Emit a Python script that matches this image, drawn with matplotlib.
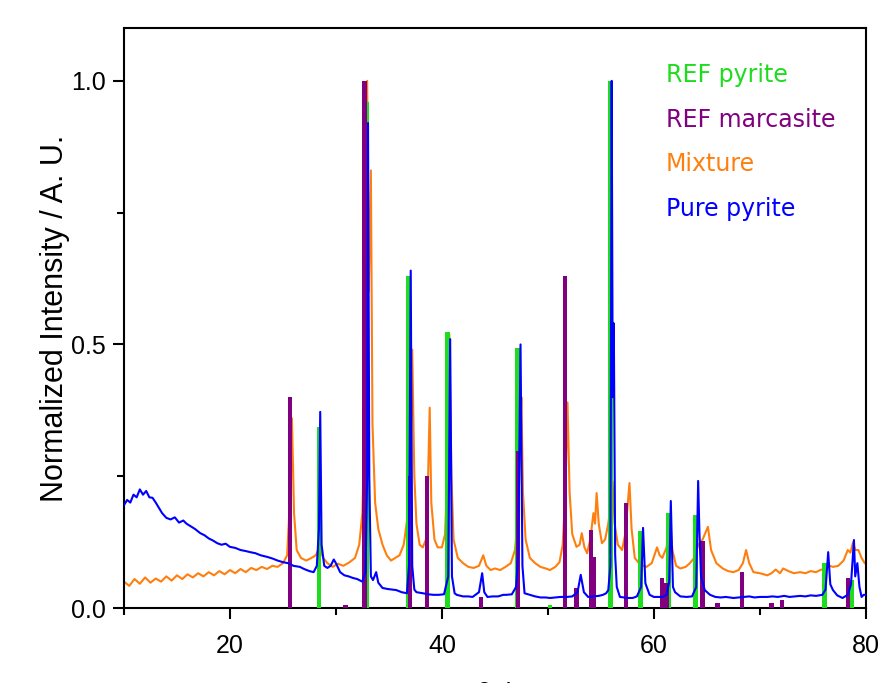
import matplotlib
matplotlib.use("Agg")
import matplotlib.pyplot as plt
from matplotlib.ticker import MultipleLocator

# reference stick patterns (2theta, normalized intensity)
pyrite_ref_x = [28.4, 32.9, 36.85, 40.55, 47.15, 50.2, 55.9, 58.75, 61.35, 63.95, 76.1, 78.65]
pyrite_ref_y = [0.343, 0.96, 0.63, 0.524, 0.493, 0.005, 1.0, 0.146, 0.18, 0.177, 0.085, 0.053]

marc_ref_x = [25.7, 30.9, 32.7, 37.0, 38.6, 43.7, 47.2, 51.6, 52.7, 54.05, 54.35, 57.4,
              60.8, 61.2, 64.6, 66.0, 68.3, 71.1, 72.1, 78.3]
marc_ref_y = [0.40, 0.005, 1.0, 0.25, 0.25, 0.02, 0.297, 0.63, 0.038, 0.148, 0.097, 0.2,
              0.057, 0.047, 0.127, 0.01, 0.068, 0.01, 0.015, 0.057]

# measured patterns
mix_x = [10.0, 10.5, 11.0, 11.5, 12.0, 12.5, 13.0, 13.5, 14.0, 14.5, 15.0, 15.5, 16.0, 16.5,
         17.0, 17.5, 18.0, 18.5, 19.0, 19.5, 20.0, 20.5, 21.0, 21.5, 22.0, 22.5, 23.0, 23.5,
         24.0, 24.5, 25.0, 25.4, 25.65, 25.85, 26.05, 26.3, 26.7, 27.2, 27.7, 28.1, 28.45,
         28.8, 29.2, 29.7, 30.2, 30.7, 31.3, 31.8, 32.2, 32.5, 32.75, 32.95, 33.1, 33.3,
         33.45, 33.7, 34.0, 34.4, 34.8, 35.2, 35.6, 36.0, 36.4, 36.8, 37.05, 37.2, 37.4,
         37.6, 37.9, 38.2, 38.5, 38.7, 38.85, 39.0, 39.3, 39.6, 40.0, 40.3, 40.5, 40.7,
         40.9, 41.1, 41.5, 42.0, 42.5, 43.0, 43.5, 43.9, 44.2, 44.6, 45.0, 45.5, 46.0,
         46.5, 46.9, 47.2, 47.4, 47.5, 47.65, 47.9, 48.3, 48.8, 49.3, 49.8, 50.2, 50.7,
         51.1, 51.4, 51.65, 51.85, 52.05, 52.3, 52.7, 53.0, 53.2, 53.45, 53.7, 54.0, 54.3,
         54.45, 54.6, 54.8, 55.1, 55.4, 55.7, 55.95, 56.1, 56.3, 56.6, 57.0, 57.3, 57.55,
         57.7, 57.9, 58.2, 58.6, 59.0, 59.3, 59.8, 60.3, 60.55, 60.8, 61.2, 61.5, 61.75,
         62.1, 62.5, 63.0, 63.4, 63.8, 64.2, 64.6, 65.1, 65.4, 65.9, 66.5, 67.0, 67.5,
         68.0, 68.4, 68.7, 69.0, 69.4, 70.0, 70.7, 71.1, 71.5, 71.9, 72.2, 72.7, 73.2,
         73.8, 74.3, 74.8, 75.3, 75.7, 76.2, 76.6, 76.9, 77.4, 77.9, 78.3, 78.55, 78.8,
         79.0, 79.3, 79.6, 79.9, 80.0]
mix_y = [0.050, 0.042, 0.055, 0.046, 0.058, 0.048, 0.056, 0.050, 0.060, 0.052, 0.062, 0.055,
         0.064, 0.058, 0.066, 0.060, 0.068, 0.062, 0.070, 0.064, 0.072, 0.066, 0.074, 0.068,
         0.076, 0.072, 0.078, 0.074, 0.080, 0.078, 0.085, 0.10, 0.20, 0.36, 0.18, 0.11,
         0.095, 0.09, 0.095, 0.10, 0.115, 0.095, 0.085, 0.078, 0.084, 0.080, 0.087, 0.095,
         0.12, 0.18, 0.40, 1.0, 0.60, 0.83, 0.35, 0.20, 0.15, 0.12, 0.10, 0.09, 0.095, 0.10,
         0.12, 0.18, 0.30, 0.49, 0.25, 0.16, 0.12, 0.115, 0.13, 0.25, 0.38, 0.20, 0.13,
         0.115, 0.115, 0.14, 0.25, 0.52, 0.25, 0.13, 0.095, 0.085, 0.078, 0.076, 0.08, 0.10,
         0.08, 0.072, 0.075, 0.072, 0.078, 0.085, 0.11, 0.18, 0.32, 0.40, 0.22, 0.13, 0.095,
         0.085, 0.078, 0.075, 0.072, 0.078, 0.087, 0.12, 0.22, 0.39, 0.22, 0.14, 0.116, 0.12,
         0.142, 0.115, 0.104, 0.13, 0.18, 0.16, 0.218, 0.16, 0.123, 0.13, 0.16, 0.20, 0.24,
         0.16, 0.12, 0.11, 0.14, 0.20, 0.237, 0.15, 0.095, 0.085, 0.08, 0.078, 0.085, 0.115,
         0.10, 0.095, 0.115, 0.167, 0.11, 0.08, 0.075, 0.078, 0.085, 0.095, 0.12, 0.13,
         0.154, 0.11, 0.085, 0.075, 0.07, 0.068, 0.072, 0.085, 0.11, 0.085, 0.068, 0.066,
         0.062, 0.066, 0.073, 0.066, 0.075, 0.07, 0.066, 0.068, 0.066, 0.07, 0.068, 0.072,
         0.075, 0.08, 0.078, 0.08, 0.09, 0.11, 0.105, 0.125, 0.11, 0.11, 0.095, 0.085, 0.085]

pure_x = [10.0, 10.3, 10.6, 10.9, 11.2, 11.5, 11.8, 12.1, 12.4, 12.7, 13.0, 13.3, 13.6, 14.0,
          14.4, 14.8, 15.2, 15.6, 15.9, 16.3, 16.7, 17.2, 17.6, 18.0, 18.4, 18.8, 19.2,
          19.6, 20.0, 20.5, 21.0, 21.5, 21.9, 22.4, 22.9, 23.5, 24.0, 24.5, 25.0, 25.5,
          26.0, 26.6, 27.0, 27.5, 27.9, 28.2, 28.4, 28.52, 28.65, 28.9, 29.2, 29.5, 29.8,
          30.0, 30.4, 30.8, 31.2, 31.6, 32.0, 32.5, 32.8, 32.95, 33.03, 33.15, 33.3, 33.5,
          33.8, 34.0, 34.4, 34.9, 35.3, 35.7, 36.2, 36.7, 36.9, 37.06, 37.2, 37.4, 37.6,
          38.2, 38.7, 39.2, 39.7, 40.2, 40.6, 40.78, 40.95, 41.2, 41.4, 42.0, 42.5, 42.9,
          43.5, 43.8, 44.0, 44.3, 44.8, 45.3, 45.8, 46.1, 46.6, 47.0, 47.2, 47.42, 47.6,
          47.8, 48.3, 48.8, 49.3, 49.8, 50.2, 50.7, 51.2, 51.8, 52.3, 52.8, 53.1, 53.4, 53.8,
          54.3, 54.8, 55.2, 55.5, 55.7, 55.9, 56.02, 56.12, 56.22, 56.35, 56.5, 56.8, 57.2,
          57.6, 58.0, 58.4, 58.8, 58.98, 59.2, 59.6, 60.0, 60.3, 60.8, 61.2, 61.45, 61.6,
          61.8, 62.0, 62.5, 63.1, 63.6, 64.0, 64.18, 64.3, 64.45, 64.8, 65.3, 65.8, 66.3,
          66.8, 67.5, 68.0, 68.5, 69.0, 69.5, 70.0, 70.7, 71.2, 71.7, 72.3, 72.8, 73.3,
          73.8, 74.3, 74.8, 75.3, 75.9, 76.2, 76.45, 76.65, 76.9, 77.3, 77.8, 78.3, 78.6,
          78.88, 79.0, 79.2, 79.4, 79.6, 79.8, 80.0]
pure_y = [0.195, 0.205, 0.20, 0.215, 0.21, 0.225, 0.215, 0.222, 0.21, 0.209, 0.20, 0.19, 0.18,
          0.171, 0.168, 0.172, 0.162, 0.166, 0.16, 0.155, 0.15, 0.142, 0.138, 0.132, 0.128,
          0.123, 0.12, 0.122, 0.116, 0.114, 0.11, 0.108, 0.106, 0.104, 0.10, 0.097, 0.094,
          0.09, 0.087, 0.085, 0.08, 0.078, 0.074, 0.07, 0.068, 0.08, 0.15, 0.372, 0.12, 0.08,
          0.076, 0.08, 0.092, 0.085, 0.068, 0.062, 0.06, 0.057, 0.055, 0.05, 0.07, 0.25, 0.92,
          0.25, 0.06, 0.053, 0.068, 0.048, 0.038, 0.036, 0.035, 0.034, 0.03, 0.028, 0.08,
          0.64, 0.08, 0.035, 0.03, 0.028, 0.026, 0.025, 0.025, 0.026, 0.06, 0.51, 0.06, 0.028,
          0.025, 0.022, 0.022, 0.021, 0.03, 0.066, 0.03, 0.021, 0.022, 0.022, 0.025, 0.025,
          0.026, 0.04, 0.10, 0.50, 0.08, 0.028, 0.025, 0.022, 0.02, 0.02, 0.019, 0.02, 0.021,
          0.021, 0.022, 0.03, 0.063, 0.03, 0.021, 0.022, 0.023, 0.025, 0.028, 0.034, 0.08,
          1.0, 0.40, 0.54, 0.10, 0.04, 0.021, 0.02, 0.019, 0.019, 0.022, 0.04, 0.152, 0.047,
          0.025, 0.021, 0.021, 0.021, 0.025, 0.05, 0.203, 0.04, 0.03, 0.022, 0.021, 0.022,
          0.04, 0.241, 0.144, 0.06, 0.034, 0.025, 0.021, 0.02, 0.021, 0.019, 0.02, 0.021,
          0.022, 0.02, 0.021, 0.021, 0.022, 0.021, 0.023, 0.021, 0.022, 0.023, 0.022, 0.024,
          0.023, 0.025, 0.035, 0.106, 0.045, 0.034, 0.024, 0.019, 0.025, 0.045, 0.129, 0.06,
          0.085, 0.04, 0.021, 0.025, 0.025]

labels = ["REF pyrite", "REF marcasite", "Mixture", "Pure pyrite"]
colors = ["#1edc1e", "#800080", "#ff7f0e", "#0000ff"]

plt.rcParams['font.family'] = ['Liberation Sans', 'DejaVu Sans']

fig = plt.figure(figsize=(8.79, 6.83), dpi=100)
ax = fig.add_axes([0.141, 0.1098, 0.844, 0.849])

ax.plot(mix_x, mix_y, color=colors[2], lw=1.5, zorder=2)
ax.bar(pyrite_ref_x, pyrite_ref_y, width=0.45, color=colors[0], zorder=3)
ax.bar(marc_ref_x, marc_ref_y, width=0.4, color=colors[1], zorder=3)
ax.plot(pure_x, pure_y, color=colors[3], lw=1.5, zorder=4)

ax.set_xlim(10, 80)
ax.set_ylim(0, 1.1)
ax.xaxis.set_major_locator(MultipleLocator(20))
ax.xaxis.set_minor_locator(MultipleLocator(10))
ax.yaxis.set_major_locator(MultipleLocator(0.5))
ax.yaxis.set_minor_locator(MultipleLocator(0.25))
ax.tick_params(which='both', direction='out', width=1.5, labelsize=18)
ax.tick_params(which='major', length=8)
ax.tick_params(which='minor', length=5)
ax.tick_params(axis='x', pad=11)
ax.tick_params(axis='y', pad=5)
for s in ax.spines.values():
    s.set_linewidth(1.5)

ax.set_ylabel("Normalized Intensity / A. U.", fontsize=22, labelpad=1)
ax.set_xlabel("2θ / °", fontsize=22, labelpad=17)

ypos = [0.919, 0.841, 0.765, 0.688]
for lab, c, yy in zip(labels, colors, ypos):
    ax.text(0.73, yy, lab, color=c, fontsize=17, family=['DejaVu Sans'],
            transform=ax.transAxes, va='center', ha='left')

fig.savefig("out.png", dpi=100)
